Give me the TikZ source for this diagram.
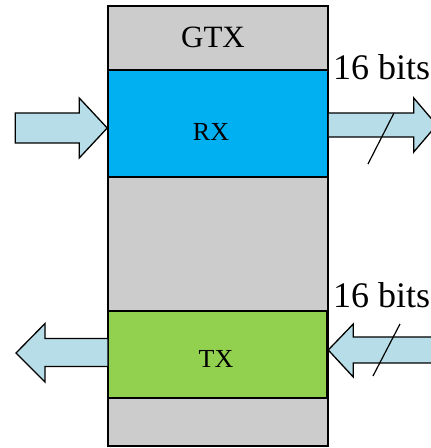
\documentclass[tikz,border=0pt]{standalone}
\usepackage{fontspec}
\setmainfont{Liberation Serif}
\usepackage{tikz}
\usetikzlibrary{calc}
\definecolor{gtxgray}{HTML}{CCCCCC}
\definecolor{rxblue}{HTML}{00B0F0}
\definecolor{txgreen}{HTML}{92D050}
\definecolor{flow}{HTML}{B7DEE8}
\tikzset{
  box/.style={draw=black, line width=1.5pt, inner sep=0pt},
  barrow/.style={draw=black, fill=flow, line width=1.3pt, line join=miter},
  slash/.style={draw=black, line width=1.2pt},
  lbl/.style={text=black, inner sep=0pt}
}

\begin{document}
\begin{tikzpicture}[x=1pt, y=1pt]
  \useasboundingbox (0,0) rectangle (431,448);

  % transceiver blocks
  \node[box, fill=gtxgray, minimum width=220, minimum height=440] (gtx) at (218,222) {};
  \node[box, fill=rxblue, minimum width=220, minimum height=107] (rx) at (218,324.5) {};
  \node[box, fill=txgreen, minimum width=219, minimum height=87] (tx) at (217.5,93.5) {};

  \node[lbl, font=\fontsize{31}{31}\selectfont] (gtxlbl) at (213,411) {GTX};
  \node[lbl, font=\fontsize{26}{26}\selectfont] (rxlbl) at (211,316) {RX};
  \node[lbl, font=\fontsize{26}{26}\selectfont] (txlbl) at (216,89) {TX};

  % serial in / parallel out
  \coordinate (rxin) at ($(rx.west)+(0,-4.5)$);
  \draw[barrow] (rxin) -- ++(-28,30) -- ++(0,-15) -- ++(-64,0) -- ++(0,-30)
    -- ++(64,0) -- ++(0,-15) -- cycle;
  \coordinate (rxout) at ($(rx.east)+(0,-1.5)$);
  \draw[barrow] (rxout) ++(0,12) -- ++(85,0) -- ++(0,15) -- ++(23,-27)
    -- ++(-23,-27) -- ++(0,15) -- ++(-85,0);
  \coordinate (rxbus) at (381,309.5);
  \draw[slash] ($(rxbus)+(-13,-25.5)$) -- ($(rxbus)+(13,25.5)$);
  \node[lbl, anchor=base west, font=\fontsize{36}{36}\selectfont] (rxbits) at (333,368) {16 bits};

  % parallel in / serial out
  \coordinate (txout) at (16,95);
  \draw[barrow] (txout) -- ++(29,29.5) -- ++(0,-15) -- ++(63,0)
    -- ++(0,-28) -- ++(-63,0) -- ++(0,-15.5) -- cycle;
  \coordinate (txin) at ($(tx.east)+(0.5,4.5)$);
  \draw[barrow] (txin) -- ++(25,26) -- ++(0,-13) -- ++(90,0) -- ++(0,-26)
    -- ++(-90,0) -- ++(0,-14) -- cycle;
  \coordinate (txbus) at (386.5,98);
  \draw[slash] ($(txbus)+(-13.5,-26)$) -- ($(txbus)+(13.5,26)$);
  \node[lbl, anchor=base west, font=\fontsize{36}{36}\selectfont] (txbits) at (333,140) {16 bits};
\end{tikzpicture}
\end{document}
